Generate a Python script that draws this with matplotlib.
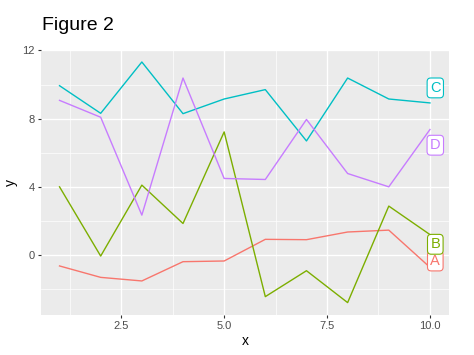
import numpy as np
import matplotlib
matplotlib.use("Agg")
import matplotlib.pyplot as plt
from matplotlib.ticker import FixedLocator

plt.rcParams["font.family"] = ["Liberation Sans", "DejaVu Sans"]

# ── Datos ──────────────────────────────────────────────────────────────────────
x = np.arange(1, 11)
groups = ["A", "B", "C", "D"]
colors = ["#F8766D", "#7CAE00", "#00BFC4", "#C77CFF"]

y_a = [-0.64, -1.31, -1.52, -0.39, -0.35, 0.92, 0.90, 1.35, 1.46, -0.72]
y_b = [4.00, -0.06, 4.10, 1.85, 7.22, -2.44, -0.92, -2.79, 2.87, 1.20]
y_c = [9.93, 8.31, 11.32, 8.29, 9.15, 9.70, 6.69, 10.38, 9.15, 8.92]
y_d = [9.07, 8.08, 2.34, 10.38, 4.49, 4.43, 7.95, 4.78, 4.00, 7.36]
series = [y_a, y_b, y_c, y_d]

# posiciones de las etiquetas (repelidas)
label_y = [-0.35, 0.63, 9.80, 6.44]

x_ticks = [2.5, 5.0, 7.5, 10.0]
x_tick_labels = ["2.5", "5.0", "7.5", "10.0"]
y_ticks = [0, 4, 8, 12]

# ── Figura ─────────────────────────────────────────────────────────────────────
fig = plt.figure(figsize=(4.74, 3.55), dpi=100)
ax = fig.add_axes([0.0865, 0.113, 0.8605, 0.746])
ax.set_facecolor("#EBEBEB")
for s in ax.spines.values():
    s.set_visible(False)

for vals, col in zip(series, colors):
    ax.plot(x, vals, color=col, lw=1.0, zorder=3)

for g, ly, col in zip(groups, label_y, colors):
    ax.text(10.13, ly, g, color=col, fontsize=10.5, ha="center", va="center", zorder=4,
            bbox=dict(boxstyle="round,pad=0.2,rounding_size=0.25", fc="white",
                      ec=col, lw=0.8))

ax.set_xlim(0.55, 10.46)
ax.set_ylim(-3.51, 12.02)
ax.set_xticks(x_ticks)
ax.set_xticklabels(x_tick_labels)
ax.set_yticks(y_ticks)
ax.xaxis.set_minor_locator(FixedLocator([1.25, 3.75, 6.25, 8.75]))
ax.yaxis.set_minor_locator(FixedLocator([-2, 2, 6, 10]))
ax.grid(which="major", color="white", lw=1.0, zorder=0)
ax.grid(which="minor", color="white", lw=0.5, zorder=0)
ax.set_axisbelow(True)
ax.tick_params(which="major", length=2.5, width=0.8, color="#333333",
               labelsize=8, labelcolor="#4D4D4D", pad=2)
ax.tick_params(which="minor", length=0)

ax.set_xlabel("x", fontsize=10, labelpad=2)
ax.set_ylabel("y", fontsize=10, labelpad=3)
fig.text(0.088, 0.905, "Figure 2", fontsize=14, ha="left", va="bottom")

fig.savefig("out.png", dpi=100)
